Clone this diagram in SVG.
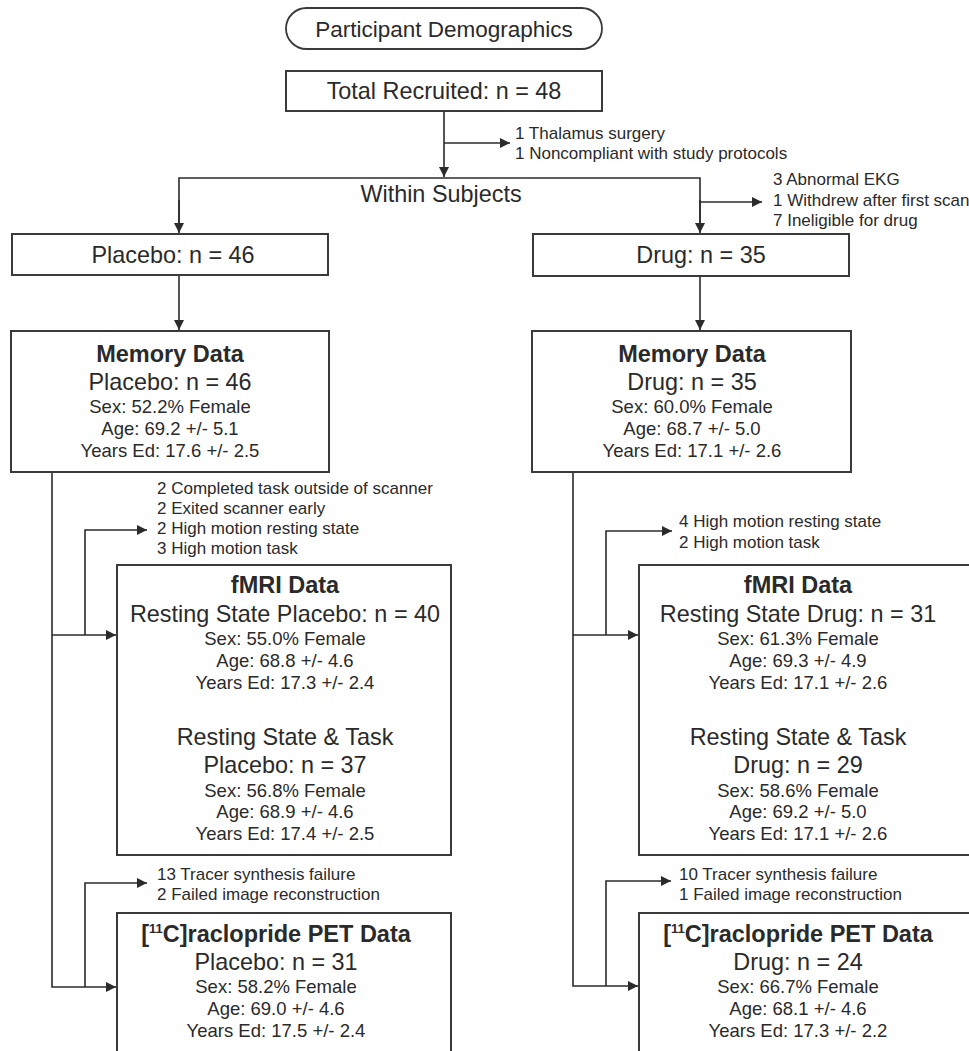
<svg xmlns="http://www.w3.org/2000/svg" width="969" height="1051" viewBox="0 0 969 1051">
<defs>
<marker id="ah" viewBox="0 0 10 10" refX="10" refY="5" markerWidth="12" markerHeight="10" markerUnits="userSpaceOnUse" orient="auto">
<path d="M0,0 L10,5 L0,10 z" fill="#2b2b2b"/>
</marker>
<style>
text{font-family:"Liberation Sans",Arial,sans-serif;fill:#2a2a2a}
.box{fill:#fff;stroke:#3a3a3a;stroke-width:2}
.ln{fill:none;stroke:#2b2b2b;stroke-width:1.6}
.arr{fill:none;stroke:#2b2b2b;stroke-width:1.6;marker-end:url(#ah)}
.lg{font-size:23.4px}
.tl{font-size:23.5px;font-weight:bold}
.md{font-size:18.5px}
.sm{font-size:17px}
.c{text-anchor:middle}
</style>
</defs>
<rect width="969" height="1051" fill="#fff"/>

<g id="connectors">
<line class="arr" x1="444" y1="111" x2="444" y2="177"/>
<line class="arr" x1="444" y1="143" x2="510" y2="143"/>
<polyline class="ln" points="179,232 179,178 700,178 700,232"/>
<line class="arr" x1="179" y1="200" x2="179" y2="233"/>
<line class="arr" x1="700" y1="200" x2="700" y2="233"/>
<line class="arr" x1="700" y1="202" x2="762" y2="202"/>
<line class="arr" x1="179" y1="275" x2="179" y2="330"/>
<line class="arr" x1="700" y1="276" x2="700" y2="330"/>
<polyline class="arr" points="52,472 52,987 116,987"/>
<line class="arr" x1="52" y1="635" x2="116" y2="635"/>
<polyline class="arr" points="85,635 85,530 147,530"/>
<polyline class="arr" points="85,987 85,883 147,883"/>
<polyline class="arr" points="573,472 573,986 638,986"/>
<line class="arr" x1="573" y1="635" x2="638" y2="635"/>
<polyline class="arr" points="606,635 606,531 672,531"/>
<polyline class="arr" points="606,986 606,881 671,881"/>
</g>

<g id="participant-demographics">
<rect x="286" y="8" width="316" height="41" rx="20.5" ry="20.5" fill="#fff" stroke="#3a3a3a" stroke-width="1.8"/>
<text class="c" style="font-size:22.5px" x="444" y="36.5">Participant Demographics</text>
</g>

<g id="total-recruited">
<rect class="box" x="286" y="71" width="316" height="40"/>
<text class="lg c" x="444" y="99">Total Recruited: n = 48</text>
</g>

<g id="exclusion-1">
<text class="sm" x="515" y="139">1 Thalamus surgery</text>
<text class="sm" x="515" y="159">1 Noncompliant with study protocols</text>
</g>

<g id="within-subjects">
<text class="lg c" x="441" y="202">Within Subjects</text>
</g>

<g id="exclusion-drug">
<text class="sm" x="773" y="185">3 Abnormal EKG</text>
<text class="sm" x="773" y="206">1 Withdrew after first scan</text>
<text class="sm" x="773" y="226">7 Ineligible for drug</text>
</g>

<g id="placebo">
<rect class="box" x="12" y="234" width="316" height="41"/>
<text class="lg c" x="173" y="263">Placebo: n = 46</text>
</g>

<g id="drug">
<rect class="box" x="533" y="234" width="316" height="42"/>
<text class="lg c" x="701" y="263">Drug: n = 35</text>
</g>

<g id="memory-placebo">
<rect class="box" x="11" y="331" width="318" height="141"/>
<text class="tl c" x="170" y="362">Memory Data</text>
<text class="lg c" x="170" y="390">Placebo: n = 46</text>
<text class="md c" x="170" y="413">Sex: 52.2% Female</text>
<text class="md c" x="170" y="435">Age: 69.2 +/- 5.1</text>
<text class="md c" x="170" y="457">Years Ed: 17.6 +/- 2.5</text>
</g>

<g id="memory-drug">
<rect class="box" x="532" y="331" width="319" height="141"/>
<text class="tl c" x="692" y="362">Memory Data</text>
<text class="lg c" x="692" y="390">Drug: n = 35</text>
<text class="md c" x="692" y="413">Sex: 60.0% Female</text>
<text class="md c" x="692" y="435">Age: 68.7 +/- 5.0</text>
<text class="md c" x="692" y="457">Years Ed: 17.1 +/- 2.6</text>
</g>

<g id="exclusion-fmri-placebo">
<text class="sm" x="157" y="494">2 Completed task outside of scanner</text>
<text class="sm" x="157" y="514">2 Exited scanner early</text>
<text class="sm" x="157" y="534">2 High motion resting state</text>
<text class="sm" x="157" y="554">3 High motion task</text>
</g>

<g id="exclusion-fmri-drug">
<text class="sm" x="679" y="527">4 High motion resting state</text>
<text class="sm" x="679" y="548">2 High motion task</text>
</g>

<g id="fmri-placebo">
<rect class="box" x="117" y="565" width="334" height="290"/>
<text class="tl c" x="285" y="593">fMRI Data</text>
<text class="lg c" x="285" y="622">Resting State Placebo: n = 40</text>
<text class="md c" x="285" y="645">Sex: 55.0% Female</text>
<text class="md c" x="285" y="667">Age: 68.8 +/- 4.6</text>
<text class="md c" x="285" y="689">Years Ed: 17.3 +/- 2.4</text>
<text class="lg c" x="285" y="745">Resting State &amp; Task</text>
<text class="lg c" x="285" y="773">Placebo: n = 37</text>
<text class="md c" x="285" y="797">Sex: 56.8% Female</text>
<text class="md c" x="285" y="818">Age: 68.9 +/- 4.6</text>
<text class="md c" x="285" y="840">Years Ed: 17.4 +/- 2.5</text>
</g>

<g id="fmri-drug">
<rect class="box" x="639" y="565" width="340" height="290"/>
<text class="tl c" x="798" y="593">fMRI Data</text>
<text class="lg c" x="798" y="622">Resting State Drug: n = 31</text>
<text class="md c" x="798" y="645">Sex: 61.3% Female</text>
<text class="md c" x="798" y="667">Age: 69.3 +/- 4.9</text>
<text class="md c" x="798" y="689">Years Ed: 17.1 +/- 2.6</text>
<text class="lg c" x="798" y="745">Resting State &amp; Task</text>
<text class="lg c" x="798" y="773">Drug: n = 29</text>
<text class="md c" x="798" y="797">Sex: 58.6% Female</text>
<text class="md c" x="798" y="818">Age: 69.2 +/- 5.0</text>
<text class="md c" x="798" y="840">Years Ed: 17.1 +/- 2.6</text>
</g>

<g id="exclusion-pet-placebo">
<text class="sm" x="157" y="880">13 Tracer synthesis failure</text>
<text class="sm" x="157" y="900">2 Failed image reconstruction</text>
</g>

<g id="exclusion-pet-drug">
<text class="sm" x="679" y="880">10 Tracer synthesis failure</text>
<text class="sm" x="679" y="900">1 Failed image reconstruction</text>
</g>

<g id="pet-placebo">
<rect class="box" x="117" y="913" width="334" height="160"/>
<text class="tl c" x="276" y="942">[<tspan font-size="13" dy="-9">11</tspan><tspan dy="9">C]raclopride PET Data</tspan></text>
<text class="lg c" x="276" y="970">Placebo: n = 31</text>
<text class="md c" x="276" y="993">Sex: 58.2% Female</text>
<text class="md c" x="276" y="1015">Age: 69.0 +/- 4.6</text>
<text class="md c" x="276" y="1037">Years Ed: 17.5 +/- 2.4</text>
</g>

<g id="pet-drug">
<rect class="box" x="639" y="913" width="340" height="160"/>
<text class="tl c" x="798" y="942">[<tspan font-size="13" dy="-9">11</tspan><tspan dy="9">C]raclopride PET Data</tspan></text>
<text class="lg c" x="798" y="970">Drug: n = 24</text>
<text class="md c" x="798" y="993">Sex: 66.7% Female</text>
<text class="md c" x="798" y="1015">Age: 68.1 +/- 4.6</text>
<text class="md c" x="798" y="1037">Years Ed: 17.3 +/- 2.2</text>
</g>
</svg>
